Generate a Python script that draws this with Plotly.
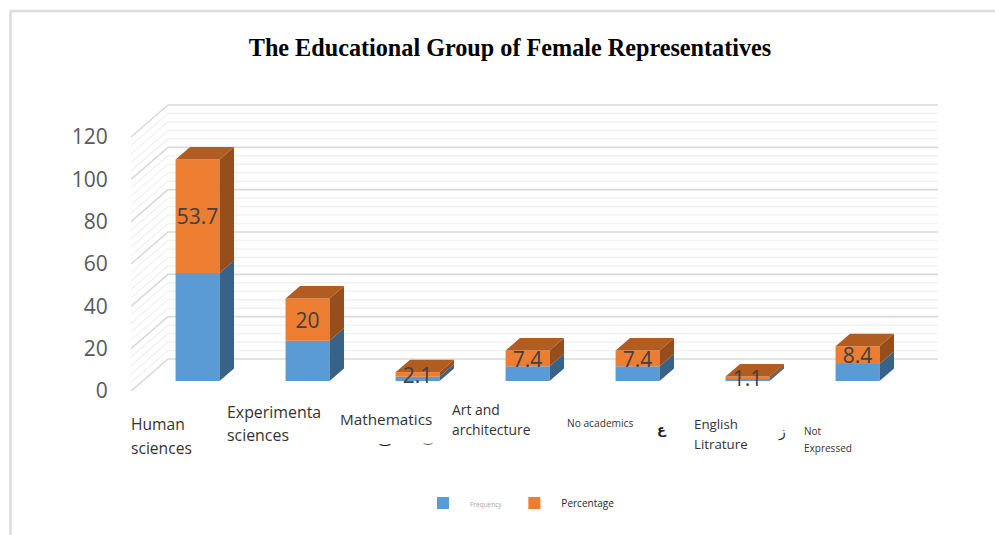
import plotly.graph_objects as go

# ---- data ----
categories = ["Human sciences", "Experimental sciences", "Mathematics", "Art and architecture",
              "No academics", "English Litrature", "Not Expressed"]
frequency = [51, 19, 2, 7, 7, 1, 8]
percentage = [53.7, 20, 2.1, 7.4, 7.4, 1.1, 8.4]
y_ticks = [0, 20, 40, 60, 80, 100, 120]
minor_ticks = [v for v in range(0, 121, 4) if v % 20]
title_text = "The Educational Group of Female Representatives"

# ---- page geometry (pixels) ----
W, H = 995, 535
PL, PR, PT, PB = 131, 945, 98, 391      # plot area
CAT_PX = 110.0                          # one category in px
UNIT_PX = 254 / 120.0                   # one y unit in px
DX, DY = 37 / CAT_PX, 32 / UNIT_PX      # pseudo-3D depth offset of the back wall, in data units
D0, D1 = 10 / 32.0, 22.5 / 32.0         # front and back depth of the bars
BAR_W = 0.4
LABEL_DROP = 3 / UNIT_PX                # value labels sit slightly below the segment centre


def px(x):
    return (x - PL) / (PR - PL)


def py(y):
    return (PB - y) / (PB - PT)


def proj(x, y, d):
    return x + d * DX, y + d * DY


fig = go.Figure()

# ---- walls: gridlines as shapes below the marks ----
shapes = []


def wall_line(v, color, width):
    x0, y0 = proj(0, v, 0)
    x1, y1 = proj(0, v, 1)
    x2, y2 = proj(len(categories), v, 1)
    path = f"M {x0} {y0} L {x1} {y1} L {x2} {y2}"
    shapes.append(dict(type="path", path=path, xref="x", yref="y", layer="below",
                       line=dict(color=color, width=width)))


for v in minor_ticks:
    wall_line(v, "#f2f2f2", 1.5)
for v in y_ticks:
    wall_line(v, "#dadada", 1.6)

# ---- chart frame ----
for x0, y0, x1, y1 in [(10.5, 11, 10.5, 535), (10, 11, 995, 11)]:
    shapes.append(dict(type="line", xref="paper", yref="paper", x0=px(x0), y0=py(y0), x1=px(x1), y1=py(y1),
                       line=dict(color="#dcdcdc", width=2.5), layer="below"))

# ---- front faces: stacked bars ----
centers = [i + 0.5 + D0 * DX for i in range(len(categories))]
base0 = [D0 * DY] * len(categories)
base1 = [b + f for b, f in zip(base0, frequency)]
legend_names = ['<span style="font-size:6.5px;color:#a6a6a6">Frequency</span>',
                '<span style="font-size:10px;color:#262626">Percentage</span>']
fig.add_trace(go.Bar(x=centers, y=frequency, base=base0, width=BAR_W, name=legend_names[0],
                     marker=dict(color="#5b9bd5", line=dict(width=0)), hoverinfo="skip"))
fig.add_trace(go.Bar(x=centers, y=percentage, base=base1, width=BAR_W, name=legend_names[1],
                     marker=dict(color="#ed7d31", line=dict(width=0)), hoverinfo="skip"))


# ---- side and top faces, computed from the values ----
def face_trace(xs, ys, color):
    return go.Scatter(x=xs, y=ys, mode="lines", fill="toself", fillcolor=color,
                      line=dict(width=0, color=color), showlegend=False, hoverinfo="skip")


def side_polys(lows, highs):
    xs, ys = [], []
    for i, (lo, hi) in enumerate(zip(lows, highs)):
        xr = i + 0.5 + BAR_W / 2
        pts = [proj(xr, lo, D0), proj(xr, lo, D1), proj(xr, hi, D1), proj(xr, hi, D0), proj(xr, lo, D0)]
        xs += [p[0] for p in pts] + [None]
        ys += [p[1] for p in pts] + [None]
    return xs, ys


def top_polys(levels):
    xs, ys = [], []
    for i, h in enumerate(levels):
        xl, xr = i + 0.5 - BAR_W / 2, i + 0.5 + BAR_W / 2
        pts = [proj(xl, h, D0), proj(xr, h, D0), proj(xr, h, D1), proj(xl, h, D1), proj(xl, h, D0)]
        xs += [p[0] for p in pts] + [None]
        ys += [p[1] for p in pts] + [None]
    return xs, ys


lows0 = [0] * len(categories)
tops0 = frequency
tops1 = [f + p for f, p in zip(frequency, percentage)]
fig.add_trace(face_trace(*side_polys(lows0, tops0), "#386288"))
fig.add_trace(face_trace(*side_polys(tops0, tops1), "#964f1c"))
fig.add_trace(face_trace(*top_polys(tops1), "#b15d22"))

# ---- value labels ----
fig.add_trace(go.Scatter(
    x=centers,
    y=[b + p / 2 - LABEL_DROP for b, p in zip(base1, percentage)],
    text=[f"{p:g}" for p in percentage],
    mode="text", textposition="middle center",
    textfont=dict(family="Open Sans", size=21, color="#404040"),
    showlegend=False, hoverinfo="skip", cliponaxis=False))

# ---- category labels, placed line by line as in the source picture ----
label_lines = [
    ("Human", 130, 424, 15.6), ("sciences", 130, 448, 15.6),
    ("Experimenta", 226, 412, 15.9), ("sciences", 226, 435, 15.9),
    ("Mathematics", 339, 419, 15.3),
    ("Art and", 451, 409, 13.9), ("architecture", 451, 429, 13.9),
    ("No academics", 566, 423, 10.2),
    ("English", 693, 424, 13.3), ("Litrature", 693, 444, 13.3),
    ("Not", 803, 431, 10), ("Expressed", 803, 448, 10),
]
annotations = []
for text, x, y, size in label_lines:
    annotations.append(dict(text=text, x=px(x), y=py(y), xref="paper", yref="paper",
                            xanchor="left", yanchor="middle", showarrow=False, xshift=-1,
                            font=dict(family="Open Sans", size=size, color="#333333")))

# stray glyph fragments of the source picture
fragments = [("<b>ع</b>", 662, 429, 13, "#222222"), ("ز", 782, 432, 14, "#333333"),
             ("<b>‿</b>", 385, 439, 12, "#111111"), ("‿", 428, 439, 10, "#555555")]
for text, x, y, size, color in fragments:
    annotations.append(dict(text=text, x=px(x), y=py(y), xref="paper", yref="paper",
                            xanchor="center", yanchor="middle", showarrow=False,
                            font=dict(family="DejaVu Sans", size=size, color=color)))

fig.update_layout(
    width=W, height=H, autosize=False,
    margin=dict(l=PL, r=W - PR, t=PT, b=H - PB, pad=0),
    paper_bgcolor="white", plot_bgcolor="rgba(0,0,0,0)",
    barmode="overlay", hovermode=False,
    title=dict(text=f"<b>{title_text}</b>", x=510 / W, xanchor="center", xref="container",
               y=1 - 48 / H, yanchor="middle", yref="container",
               font=dict(family="Liberation Serif", size=24.2, color="black")),
    xaxis=dict(range=[0, (PR - PL) / CAT_PX], showgrid=False, zeroline=False,
               showticklabels=False, ticks="", showline=False, fixedrange=True),
    yaxis=dict(range=[0, (PB - PT) / UNIT_PX], tickvals=y_ticks, showgrid=False, zeroline=False,
               showline=False, ticks="outside", ticklen=18, tickcolor="rgba(255,255,255,0)",
               tickfont=dict(family="Open Sans", size=21, color="#595959"), fixedrange=True),
    legend=dict(orientation="h", x=px(416), y=py(503), xanchor="left", yanchor="middle",
                xref="paper", yref="paper", itemwidth=44,
                bgcolor="rgba(0,0,0,0)", borderwidth=0, traceorder="normal",
                font=dict(family="Open Sans", size=10, color="#262626"),
                itemclick=False, itemdoubleclick=False),
    shapes=shapes,
    annotations=annotations,
)

fig.write_html("out.html", config={"displayModeBar": False},
               post_script="document.body.style.margin='0';document.body.style.overflow='hidden';")
